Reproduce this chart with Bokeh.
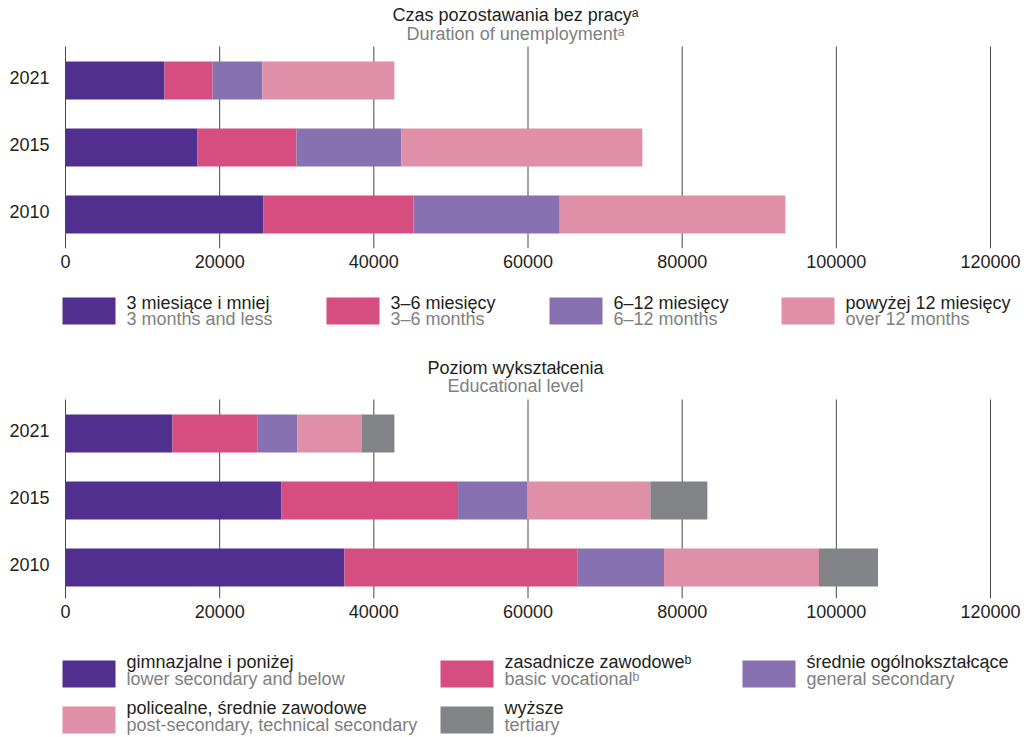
from bokeh.plotting import figure
from bokeh.models import ColumnDataSource, Range1d, FixedTicker, BasicTickFormatter
from bokeh.layouts import column
from bokeh.embed import file_html
from bokeh.resources import INLINE
from bokeh.core.properties import value

# ---------------- data ----------------
years = ["2010", "2015", "2021"]
x_ticks = [0, 20000, 40000, 60000, 80000, 100000, 120000]

dur_title_pl = "Czas pozostawania bez pracyᵃ"
dur_title_en = "Duration of unemploymentᵃ"
dur_labels_pl = ["3 miesiące i mniej", "3–6 miesięcy", "6–12 miesięcy", "powyżej 12 miesięcy"]
dur_labels_en = ["3 months and less", "3–6 months", "6–12 months", "over 12 months"]
dur_3m_less = [25680, 17120, 12840]
dur_3_6m = [19460, 12840, 6230]
dur_6_12m = [18970, 13620, 6480]
dur_over_12m = [29280, 31260, 17120]

edu_title_pl = "Poziom wykształcenia"
edu_title_en = "Educational level"
edu_labels_pl = ["gimnazjalne i poniżej", "zasadnicze zawodoweᵇ", "średnie ogólnokształcące",
                 "policealne, średnie zawodowe", "wyższe"]
edu_labels_en = ["lower secondary and below", "basic vocationalᵇ", "general secondary",
                 "post-secondary, technical secondary", "tertiary"]
edu_lower_secondary = [36190, 28020, 13880]
edu_basic_vocational = [30260, 22910, 11060]
edu_general_secondary = [11200, 8950, 5150]
edu_post_secondary = [20100, 16000, 8300]
edu_tertiary = [7660, 7390, 4280]

colors = ["#512f8f", "#d64d7f", "#8771b1", "#df8fa7", "#828386"]

# ---------------- style / layout ----------------
FONT = "Liberation Sans"
DARK = "#231f20"
GREY = "#808080"
GRID = "#4a4a4a"
W = 1030
X0 = 65                 # page x of value 0
PX = 120000 / 925.0     # data units per pixel
ROW = 67.0              # pixels between bar rows
BAR_H = 38.0 / ROW
TXT_DY = 7              # correction of text baseline placement (pixels, upwards)


def chart(title_pl, title_en, series, cols, top, height, frame_bottom, c0, tb1, tb2, grid_top):
    # vertical positions given in page pixels
    def yd(py):
        return (c0 - py) / ROW
    frame_h = frame_bottom - top
    p = figure(width=W, height=height,
               x_range=Range1d(-X0 * PX, (W - X0) * PX),
               y_range=Range1d(yd(frame_bottom), yd(top)),
               output_backend="svg", toolbar_location=None, y_axis_type=None,
               min_border_left=0, min_border_right=0, min_border_top=0,
               min_border_bottom=height - frame_h)
    p.outline_line_color = None
    p.grid.visible = False

    n = len(x_ticks)
    p.segment(x0=x_ticks, x1=x_ticks, y0=[yd(frame_bottom)] * n, y1=[yd(grid_top)] * n,
              line_color=GRID, line_width=1)

    data = {"y": list(range(len(years)))}
    keys = []
    for i, s in enumerate(series):
        k = "s%d" % i
        data[k] = s
        keys.append(k)
    src = ColumnDataSource(data)
    p.hbar_stack(keys, y="y", height=BAR_H, color=cols[:len(keys)], source=src, line_width=0)

    # category labels (years)
    p.text(x=[-16 * PX] * len(years),
           y=[i - (3.6 - TXT_DY) / ROW for i in range(len(years))], text=years,
           text_font=value(FONT), text_font_size="18px", text_color=DARK,
           text_align="right", text_baseline="alphabetic")

    cx = (W / 2 - X0) * PX
    p.text(x=[cx], y=[yd(tb1 - TXT_DY)], text=[title_pl], text_font=value(FONT),
           text_font_size="18px", text_color=DARK, text_align="center",
           text_baseline="alphabetic")
    p.text(x=[cx], y=[yd(tb2 - TXT_DY)], text=[title_en], text_font=value(FONT),
           text_font_size="18px", text_color=GREY, text_align="center",
           text_baseline="alphabetic")

    xa = p.xaxis[0]
    xa.ticker = FixedTicker(ticks=x_ticks)
    xa.formatter = BasicTickFormatter(use_scientific=False)
    xa.axis_line_color = None
    xa.major_tick_line_color = None
    xa.minor_tick_line_color = None
    xa.major_tick_out = 0
    xa.major_tick_in = 0
    xa.major_label_text_font = FONT
    xa.major_label_text_font_size = "18px"
    xa.major_label_text_color = DARK
    xa.major_label_standoff = 6
    return p


def legend(top, height, labels_pl, labels_en, cols, positions, sq_h, off1, off2):
    # positions: list of (page_x_of_square, page_y_top_of_square)
    p = figure(width=W, height=height, x_range=Range1d(0, W), y_range=Range1d(height, 0),
               output_backend="svg", toolbar_location=None, min_border=0,
               x_axis_type=None, y_axis_type=None)
    p.outline_line_color = None
    p.grid.visible = False
    lx = [px for px, _ in positions]
    ty = [py - top for _, py in positions]
    p.quad(left=lx, right=[x + 53 for x in lx], top=ty, bottom=[y + sq_h for y in ty],
           color=cols[:len(positions)], line_width=0)
    tx = [x + 64 for x in lx]
    p.text(x=tx, y=[y + off1 - TXT_DY for y in ty], text=labels_pl, text_font=value(FONT),
           text_font_size="18px", text_color=DARK, text_baseline="alphabetic")
    p.text(x=tx, y=[y + sq_h + off2 - TXT_DY for y in ty], text=labels_en,
           text_font=value(FONT), text_font_size="18px", text_color=GREY,
           text_baseline="alphabetic")
    return p


fa = chart(dur_title_pl, dur_title_en,
           [dur_3m_less, dur_3_6m, dur_6_12m, dur_over_12m], colors,
           top=0, height=276, frame_bottom=248, c0=214, tb1=21.5, tb2=40, grid_top=46)

la = legend(276, 74, dur_labels_pl, dur_labels_en, colors,
            [(62, 297), (326, 297), (549, 297), (781, 297)], 27, 12, 1)

fb = chart(edu_title_pl, edu_title_en,
           [edu_lower_secondary, edu_basic_vocational, edu_general_secondary,
            edu_post_secondary, edu_tertiary], colors,
           top=350, height=274, frame_bottom=598, c0=567, tb1=374, tb2=392.7, grid_top=399)

lb = legend(624, 113, edu_labels_pl, edu_labels_en, colors,
            [(62, 660), (440, 660), (742, 660), (62, 706), (440, 706)], 27, 8, -2)

layout = column(fa, la, fb, lb, spacing=0)
open("out.html", "w").write(file_html(layout, INLINE))
